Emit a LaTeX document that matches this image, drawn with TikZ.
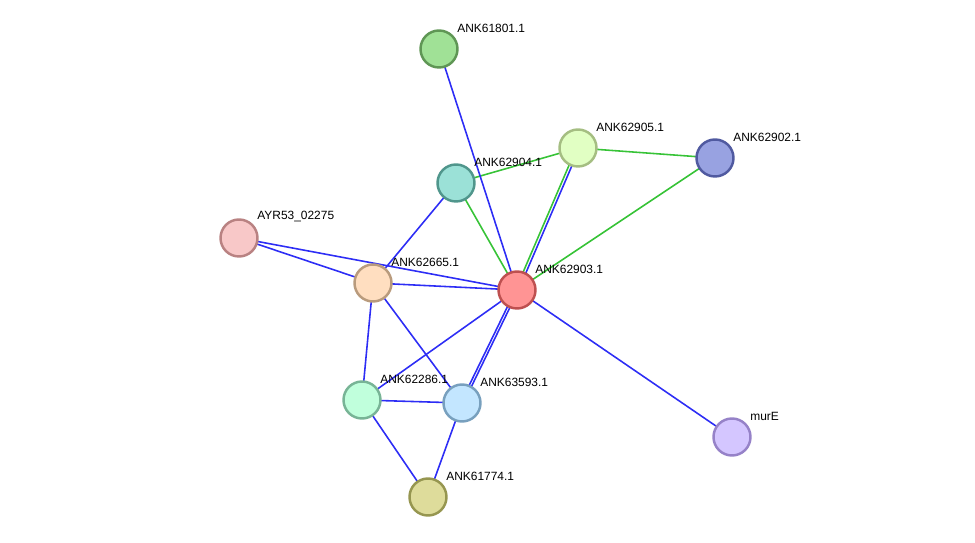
\documentclass[tikz,border=0pt]{standalone}
\usepackage{fontspec}
\setmainfont{Liberation Sans}
\usepackage{tikz}
\usetikzlibrary{positioning, backgrounds}
\definecolor{linkblue}{RGB}{45, 45, 245}
\definecolor{linkgreen}{RGB}{55, 195, 55}
\definecolor{redfill}{RGB}{255, 148, 148}
\definecolor{reddraw}{RGB}{190, 80, 80}
\definecolor{greenfill}{RGB}{160, 225, 150}
\definecolor{greendraw}{RGB}{95, 150, 85}
\definecolor{limefill}{RGB}{225, 255, 195}
\definecolor{limedraw}{RGB}{165, 190, 130}
\definecolor{navyfill}{RGB}{152, 162, 225}
\definecolor{navydraw}{RGB}{80, 90, 160}
\definecolor{tealfill}{RGB}{155, 225, 215}
\definecolor{tealdraw}{RGB}{80, 150, 140}
\definecolor{rosefill}{RGB}{248, 200, 200}
\definecolor{rosedraw}{RGB}{185, 130, 130}
\definecolor{peachfill}{RGB}{255, 222, 192}
\definecolor{peachdraw}{RGB}{185, 155, 125}
\definecolor{mintfill}{RGB}{192, 255, 220}
\definecolor{mintdraw}{RGB}{120, 180, 150}
\definecolor{skyfill}{RGB}{195, 230, 255}
\definecolor{skydraw}{RGB}{120, 160, 190}
\definecolor{lilacfill}{RGB}{212, 198, 255}
\definecolor{lilacdraw}{RGB}{150, 130, 200}
\definecolor{olivefill}{RGB}{222, 220, 155}
\definecolor{olivedraw}{RGB}{150, 150, 80}

\begin{document}
\begin{tikzpicture}[
    x=0.02cm, y=-0.02cm,
    protein/.style={circle, line width=1.4pt, minimum size=0.74cm, inner sep=0pt},
    lbl/.style={anchor=west, inner sep=0pt, font=\fontsize{6.8}{8}\selectfont},
    edge/.style={line width=0.9pt, linkblue},
    gedge/.style={line width=0.9pt, linkgreen}
]
\useasboundingbox (0,0) rectangle (975,543);

% Proteins
\node[protein, draw=greendraw, fill=greenfill] (n61801) at (439,49) {};
\node[protein, draw=limedraw, fill=limefill] (n62905) at (578,148) {};
\node[protein, draw=navydraw, fill=navyfill] (n62902) at (715,158) {};
\node[protein, draw=tealdraw, fill=tealfill] (n62904) at (456,183) {};
\node[protein, draw=rosedraw, fill=rosefill] (ayr53) at (239,238) {};
\node[protein, draw=peachdraw, fill=peachfill] (n62665) at (373,283) {};
\node[protein, draw=reddraw, fill=redfill] (n62903) at (517,290) {};
\node[protein, draw=mintdraw, fill=mintfill] (n62286) at (362,400) {};
\node[protein, draw=skydraw, fill=skyfill] (n63593) at (462,403) {};
\node[protein, draw=lilacdraw, fill=lilacfill] (mure) at (732,437) {};
\node[protein, draw=olivedraw, fill=olivefill] (n61774) at (428,497) {};

% Labels
\node[lbl] (t61801) at (457,28) {ANK61801.1};
\node[lbl] (t62905) at (596,127) {ANK62905.1};
\node[lbl] (t62902) at (733,137) {ANK62902.1};
\node[lbl] (t62904) at (474,162) {ANK62904.1};
\node[lbl] (tayr53) at (257,217) {AYR53\_02275};
\node[lbl] (t62665) at (391,262) {ANK62665.1};
\node[lbl] (t62903) at (535,269) {ANK62903.1};
\node[lbl] (t62286) at (380,379) {ANK62286.1};
\node[lbl] (t63593) at (480,382) {ANK63593.1};
\node[lbl] (tmure) at (750,416) {murE};
\node[lbl] (t61774) at (446,476) {ANK61774.1};

% Links
\begin{scope}[on background layer]
    \draw[gedge] (n62904.center) -- (n62905.center);
    \draw[gedge] (n62905.center) -- (n62902.center);
    \draw[gedge] (n62902.center) -- (n62903.center);
    \draw[gedge] (n62904.center) -- (n62903.center);
    \draw[gedge, transform canvas={shift={(-0.026cm,0.011cm)}}] (n62905.center) -- (n62903.center);
    \draw[edge, transform canvas={shift={(0.026cm,-0.011cm)}}] (n62905.center) -- (n62903.center);
    \draw[edge] (n61801.center) -- (n62903.center);
    \draw[edge] (n62904.center) -- (n62665.center);
    \draw[edge] (ayr53.center) -- (n62903.center);
    \draw[edge] (ayr53.center) -- (n62665.center);
    \draw[edge] (n62665.center) -- (n62903.center);
    \draw[edge] (n62665.center) -- (n62286.center);
    \draw[edge] (n62665.center) -- (n63593.center);
    \draw[edge] (n62903.center) -- (n62286.center);
    \draw[edge, transform canvas={shift={(0.023cm,-0.011cm)}}] (n62903.center) -- (n63593.center);
    \draw[edge, transform canvas={shift={(-0.023cm,0.011cm)}}] (n62903.center) -- (n63593.center);
    \draw[edge] (n62903.center) -- (mure.center);
    \draw[edge] (n62286.center) -- (n63593.center);
    \draw[edge] (n62286.center) -- (n61774.center);
    \draw[edge] (n63593.center) -- (n61774.center);
\end{scope}
\end{tikzpicture}
\end{document}
